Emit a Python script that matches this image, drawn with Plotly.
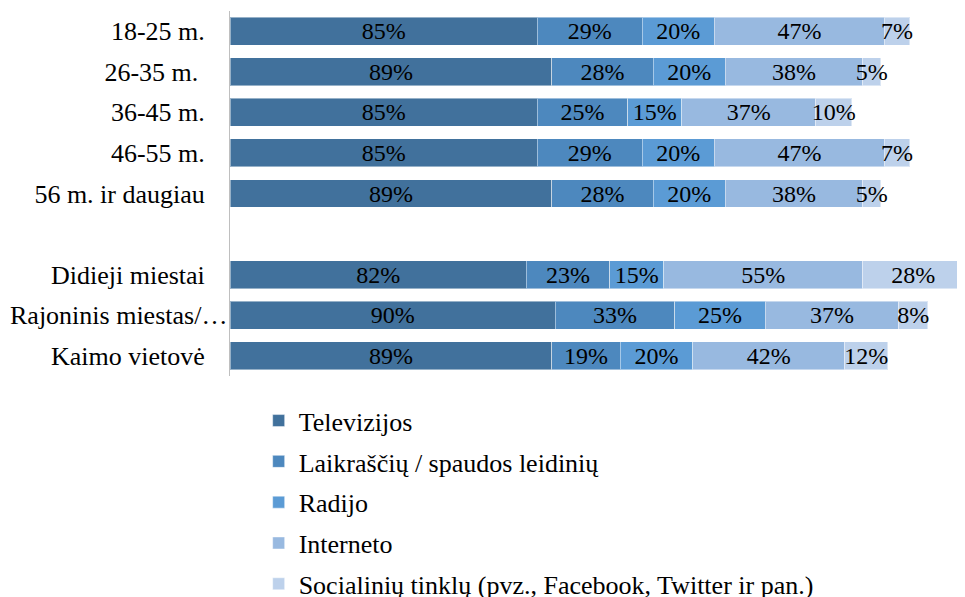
import plotly.graph_objects as go

categories = ["18-25 m.", "26-35 m.\u00a0", "36-45 m.", "46-55 m.", "56 m. ir daugiau", " ",
              "Didieji miestai", "Rajoninis miestas/…", "Kaimo vietovė"]
series_names = ["Televizijos", "Laikraščių / spaudos leidinių", "Radijo", "Interneto",
                "Socialinių tinklų (pvz., Facebook, Twitter ir pan.)"]
televizijos = [85, 89, 85, 85, 89, None, 82, 90, 89]
laikrasciu = [29, 28, 25, 29, 28, None, 23, 33, 19]
radijo = [20, 20, 15, 20, 20, None, 15, 25, 20]
interneto = [47, 38, 37, 47, 38, None, 55, 37, 42]
socialiniu = [7, 5, 10, 7, 5, None, 28, 8, 12]
colors = ["#41719C", "#4D88BE", "#5B9BD5", "#98B9E0", "#BDD1EB"]

series_values = [televizijos, laikrasciu, radijo, interneto, socialiniu]
FONT = "Liberation Serif, Times New Roman, serif"
LONG_LABEL = "Rajoninis miestas/…"

fig = go.Figure()
for i, (name, vals) in enumerate(zip(series_names, series_values)):
    fig.add_trace(go.Bar(
        y=categories, x=vals, name=name, orientation="h",
        marker=dict(color=colors[i], line=dict(color="rgba(255,255,255,0.45)", width=1)),
        text=[f"{v}%" if v is not None else "" for v in vals],
        textposition="inside", insidetextanchor="middle", constraintext="none",
        textangle=0,
        textfont=dict(family=FONT, size=24, color="black"),
        legendgroup=f"g{i}", cliponaxis=False,
    ))

# the long label runs right up to the axis line in the original
ticktext = ["" if c == LONG_LABEL else c for c in categories]
fig.add_annotation(x=0, y=LONG_LABEL, xref="x", yref="y", text=LONG_LABEL,
                   showarrow=False, xanchor="right", yanchor="middle", xshift=-1,
                   font=dict(family=FONT, size=26, color="black"))

fig.update_layout(
    barmode="stack", bargap=0.31,
    width=965, height=597,
    margin=dict(l=222, r=8, t=3, b=229, autoexpand=False),
    paper_bgcolor="white", plot_bgcolor="white",
    font=dict(family=FONT, size=26, color="black"),
    showlegend=True,
    legend=dict(x=0.039, y=-0.058,
                xanchor="left", yanchor="top", tracegroupgap=4,
                font=dict(family=FONT, size=26, color="black"),
                traceorder="grouped"),
    xaxis=dict(range=[0, 203.3], visible=False, fixedrange=True),
    yaxis=dict(categoryorder="array", categoryarray=categories, autorange="reversed",
               tickmode="array", tickvals=categories, ticktext=ticktext,
               showline=True, linecolor="#BFBFBF", linewidth=1, ticks="",
               ticklabelstandoff=19, showgrid=False, automargin=False,
               tickfont=dict(family=FONT, size=26, color="black")),
)

fig.write_html("out.html")
